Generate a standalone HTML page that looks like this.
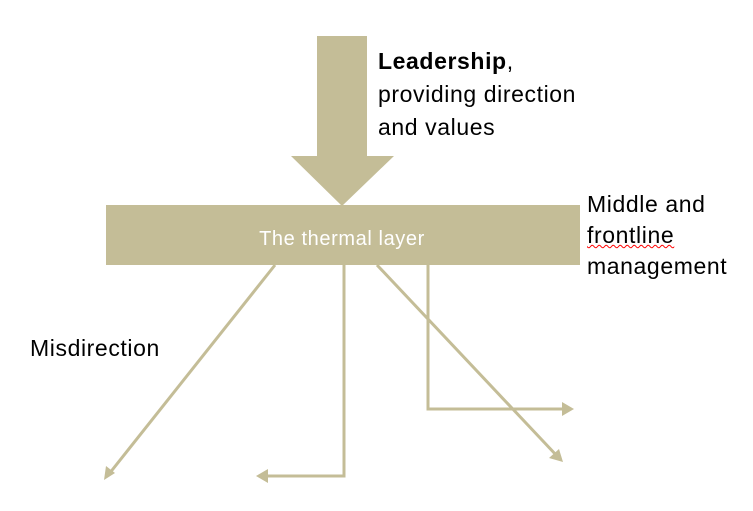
<!DOCTYPE html>
<html><head><style>
body{margin:0;width:753px;height:511px;background:#fff;overflow:hidden;position:relative;font-family:"Liberation Sans",sans-serif;}
.t{position:absolute;font-size:23px;letter-spacing:0.6px;color:#000;white-space:nowrap}
</style></head><body>
<svg width="753" height="511" style="position:absolute;left:0;top:0">
<rect x="317" y="36" width="50" height="121" fill="#c4bd97"/>
<polygon points="291,156 394,156 342,206" fill="#c4bd97"/>
<rect x="106" y="205" width="474" height="60" fill="#c4bd97"/>
<text x="342" y="245" fill="#fff" font-size="20" letter-spacing="0.6" text-anchor="middle" font-family="Liberation Sans, sans-serif">The thermal layer</text>
<g stroke="#c4bd97" stroke-width="3" fill="none">
<line x1="275" y1="265" x2="109" y2="474"/>
<polyline points="344,265 344,476 262,476"/>
<line x1="377" y1="265" x2="558" y2="457"/>
<polyline points="428,265 428,409 568,409"/>
</g>
<g fill="#c4bd97">
<polygon points="104,480 106,466 115,473"/>
<polygon points="256,476 268,469 268,483"/>
<polygon points="563,462 549,458 559,449"/>
<polygon points="574,409 562,402 562,416"/>
</g>
</svg>
<div class="t" style="left:378px;top:45px;line-height:33px"><b>Leadership</b>,<br>providing direction<br>and values</div>
<div class="t" style="left:587px;top:189px;line-height:31px">Middle and<br><span style="text-decoration:underline wavy red;text-decoration-thickness:1px">frontline</span><br>management</div>
<div class="t" style="left:30px;top:335px">Misdirection</div>
</body></html>
